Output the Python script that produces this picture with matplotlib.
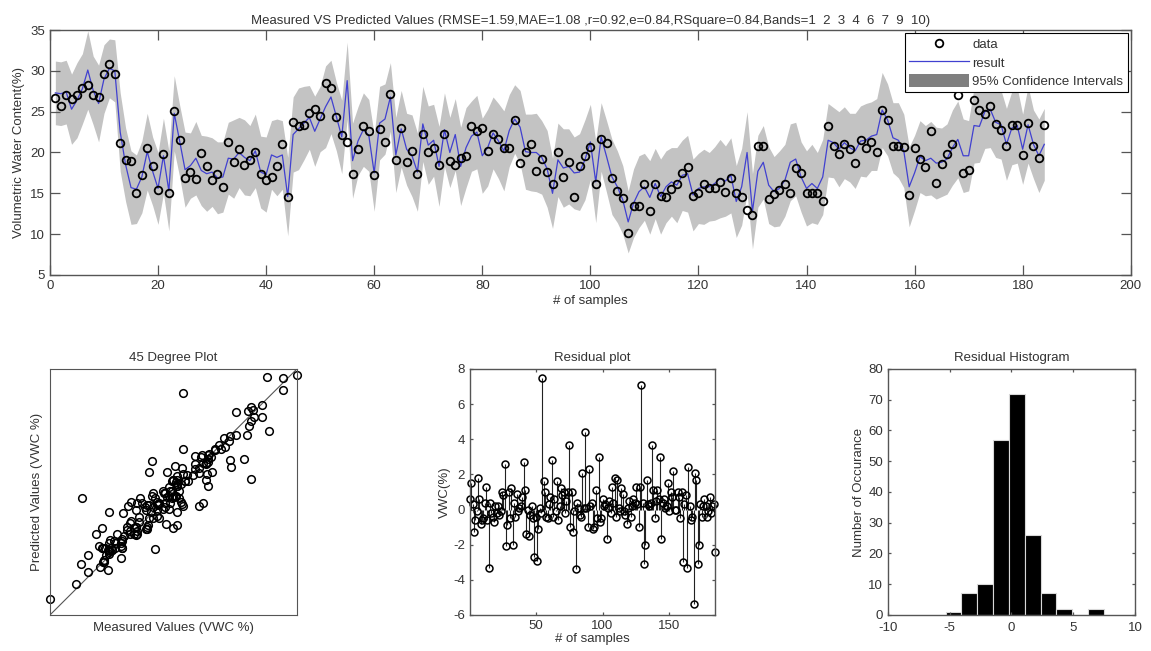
import matplotlib
matplotlib.use("Agg")
import matplotlib.pyplot as plt
from matplotlib.lines import Line2D
from matplotlib.patches import Patch
import numpy as np

plt.rcParams["font.family"] = ["Liberation Sans", "DejaVu Sans"]
plt.rcParams["font.size"] = 9.5
plt.rcParams["axes.unicode_minus"] = False
plt.rcParams["text.color"] = "#333333"
plt.rcParams["axes.labelcolor"] = "#333333"
plt.rcParams["xtick.color"] = "#333333"
plt.rcParams["ytick.color"] = "#333333"

# measured VWC (%) per sample
measured = [
    26.7, 25.7, 27.1, 26.6, 27.0, 27.9, 28.3, 27.0, 26.8, 29.6,
    30.8, 29.6, 21.2, 19.1, 19.0, 15.1, 17.2, 20.5, 18.4, 15.4,
    19.8, 15.1, 25.1, 21.5, 16.9, 17.6, 16.7, 19.9, 18.3, 16.6,
    17.4, 15.8, 21.3, 18.8, 20.4, 18.5, 19.1, 20.1, 17.4, 16.6,
    17.0, 18.3, 21.1, 14.6, 23.7, 23.2, 23.4, 24.8, 25.3, 24.5,
    28.5, 27.9, 24.3, 22.1, 21.3, 17.4, 20.4, 23.2, 22.6, 17.2,
    22.9, 21.3, 27.2, 19.1, 23.0, 18.8, 20.2, 17.4, 22.3, 20.1,
    20.5, 18.5, 22.3, 19.0, 18.5, 19.3, 19.6, 23.3, 22.6, 23.0,
    20.2, 22.3, 21.7, 20.6, 20.6, 24.0, 18.7, 20.0, 21.0, 17.7,
    19.2, 17.6, 16.1, 20.1, 17.0, 18.8, 14.5, 18.3, 19.6, 20.7,
    16.2, 21.6, 21.2, 16.9, 15.3, 14.4, 10.2, 13.4, 13.4, 16.2,
    12.8, 16.1, 14.7, 14.6, 15.5, 16.1, 17.5, 18.2, 14.7, 15.1,
    16.2, 15.6, 15.6, 16.4, 15.2, 16.9, 15.0, 14.5, 12.9, 12.4,
    20.8, 20.8, 14.3, 14.9, 15.4, 16.2, 15.1, 18.1, 17.5, 15.1,
    15.1, 15.0, 14.0, 23.2, 20.8, 19.8, 21.1, 20.4, 18.7, 21.5,
    20.5, 21.3, 20.0, 25.2, 24.0, 20.8, 20.8, 20.7, 14.8, 20.5,
    19.2, 18.2, 22.6, 16.3, 18.6, 19.8, 21.0, 27.0, 17.5, 17.9,
    26.4, 25.2, 24.7, 25.7, 23.5, 22.8, 20.8, 23.4, 23.4, 19.7,
    23.6, 20.8, 19.3, 23.4,
]

# predicted VWC (%) per sample (blue "result" line)
predicted = [
    27.3, 27.2, 27.4, 25.3, 26.4, 27.8, 30.1, 27.6, 26.0, 29.0,
    30.3, 30.0, 22.5, 18.5, 15.7, 15.5, 17.0, 20.1, 17.7, 15.6,
    19.6, 15.3, 24.8, 21.4, 17.9, 18.4, 19.3, 17.8, 17.4, 17.6,
    16.9, 17.0, 19.3, 19.2, 20.0, 19.4, 19.0, 20.2, 17.6, 17.3,
    19.7, 19.4, 19.7, 14.6, 22.2, 22.9, 23.6, 24.3, 22.6, 24.1,
    25.6, 26.8, 24.4, 21.9, 28.8, 19.0, 21.4, 22.8, 22.1, 17.5,
    23.6, 24.1, 26.8, 19.7, 22.9, 20.4, 19.6, 17.6, 23.5, 20.9,
    21.5, 18.3, 22.8, 20.0, 22.2, 18.3, 20.6, 22.0, 22.5, 19.6,
    20.6, 22.4, 21.4, 20.2, 22.7, 24.1, 23.1, 20.1, 20.0, 20.0,
    19.4, 18.0, 15.0, 19.1, 18.1, 18.3, 17.5, 17.6, 19.1, 21.3,
    16.4, 21.9, 19.5, 17.0, 15.8, 14.2, 11.5, 13.8, 15.2, 15.8,
    14.5, 16.2, 14.6, 15.8, 16.4, 16.0, 17.2, 17.4, 14.8, 15.6,
    15.8, 15.8, 16.2, 16.8, 16.5, 17.2, 14.0, 15.8, 20.0, 12.8,
    17.7, 18.8, 16.0, 15.2, 15.6, 16.6, 18.8, 19.2, 17.0, 15.6,
    16.2, 15.6, 17.0, 21.5, 21.2, 20.4, 21.2, 20.6, 20.2, 21.4,
    21.5, 22.0, 22.2, 25.2, 24.0, 21.8, 21.5, 20.2, 15.8, 17.5,
    19.5, 19.0, 19.3, 18.7, 18.8, 19.2, 20.6, 21.6, 19.6, 19.6,
    23.3, 23.2, 25.0, 25.3, 23.7, 23.4, 21.0, 23.0, 23.3, 20.4,
    23.4, 21.0, 19.6, 21.0,
]

# half width of the 95% confidence band around the prediction
ci_half = [
    3.9, 3.9, 3.9, 4.3, 4.6, 4.3, 4.8, 4.2, 4.7, 4.2,
    3.6, 3.8, 4.8, 4.5, 4.5, 4.2, 4.4, 4.7, 4.2, 4.4,
    4.6, 4.9, 4.6, 4.4, 4.6, 4.0, 4.5, 4.3, 4.6, 4.2,
    4.4, 4.3, 4.4, 4.8, 4.3, 4.6, 4.3, 4.5, 4.4, 4.6,
    4.2, 4.7, 4.2, 4.8, 4.6, 5.0, 4.5, 3.9, 4.3, 4.0,
    5.0, 4.5, 4.2, 4.5, 4.7, 4.6, 4.2, 4.5, 4.4, 4.7,
    4.5, 4.3, 4.2, 4.6, 4.7, 4.4, 5.0, 4.8, 4.6, 4.8,
    4.4, 4.9, 4.5, 4.3, 4.4, 4.8, 4.9, 4.3, 4.5, 4.6,
    4.7, 4.4, 4.6, 4.9, 4.4, 4.2, 4.5, 4.6, 4.7, 4.8,
    4.5, 4.7, 4.3, 4.5, 4.8, 4.6, 4.4, 4.7, 4.9, 4.6,
    5.0, 4.2, 4.4, 4.6, 4.4, 4.2, 3.8, 4.2, 4.4, 4.1,
    4.5, 4.3, 4.6, 4.4, 4.2, 4.6, 4.3, 4.7, 4.4, 4.3,
    4.6, 4.2, 4.5, 4.8, 4.3, 4.6, 4.4, 4.7, 5.0, 4.6,
    4.4, 4.5, 4.7, 4.3, 4.6, 4.4, 4.7, 4.5, 4.3, 4.6,
    4.8, 4.4, 4.6, 4.5, 4.3, 4.6, 4.4, 4.2, 4.6, 4.3,
    4.5, 4.2, 4.4, 4.6, 4.4, 4.3, 4.6, 4.5, 4.9, 4.6,
    4.4, 4.3, 4.5, 4.4, 4.2, 4.3, 4.6, 4.7, 4.5, 4.3,
    4.6, 4.4, 4.5, 4.7, 4.3, 4.2, 4.4, 4.5, 4.6, 4.3,
    4.7, 4.2, 4.5, 4.4,
]

# residual histogram (10 bins between min and max residual)
hist_edges = [-5.33, -4.05, -2.77, -1.49, -0.21, 1.07, 2.35, 3.63, 4.91, 6.19, 7.47]
hist_counts = [1, 7, 10, 57, 72, 26, 7, 2, 0, 2]

TITLE = ("Measured VS Predicted Values (RMSE=1.59,MAE=1.08 ,r=0.92,e=0.84,"
         "RSquare=0.84,Bands=1  2  3  4  6  7  9  10)")

SPINE = "#555555"
BAND = "#c3c3c3"
BLUE = "#4040d0"


def style_box(ax, length=3.0, xpad=3.5):
    for sp in ax.spines.values():
        sp.set_color(SPINE)
        sp.set_linewidth(1.0)
    ax.tick_params(direction="in", top=True, right=True, length=length,
                   width=0.9, colors=SPINE, labelcolor="#333333", labelsize=9.5)
    ax.tick_params(axis="x", pad=xpad)


def main() -> None:
    meas = np.array(measured)
    pred = np.array(predicted)
    half = np.array(ci_half)
    samples = np.arange(1, len(meas) + 1)
    resid = pred - meas

    fig = plt.figure(figsize=(11.51, 6.51), dpi=100)

    # --- top panel
    ax = fig.add_axes([0.0434, 0.5776, 0.939, 0.3763])
    ax.fill_between(samples, pred - half, pred + half, color=BAND, lw=0)
    ax.plot(samples, pred, color=BLUE, lw=0.9)
    ax.plot(samples, meas, "o", mfc="none", mec="black", mew=1.3, ms=5.5)
    ax.set_xlim(0, 200)
    ax.set_ylim(5, 35)
    ax.set_xticks(range(0, 201, 20))
    ax.set_yticks(range(5, 36, 5))
    style_box(ax, length=7)
    ax.set_title(TITLE, fontsize=9.5, pad=4)
    ax.set_xlabel("# of samples", labelpad=2)
    ax.set_ylabel("Volumetric Water Content(%)", labelpad=4)
    handles = [
        Line2D([], [], marker="o", ls="none", mfc="none", mec="black", mew=1.3, ms=5.5),
        Line2D([], [], color=BLUE, lw=0.9),
        Patch(facecolor="#7f7f7f", edgecolor="none"),
    ]
    leg = ax.legend(handles, ["data", "result", "95% Confidence Intervals"],
                    loc="upper right", fancybox=False, framealpha=1,
                    borderaxespad=0.2, handlelength=4.5, handleheight=1.2,
                    handletextpad=0.3, labelspacing=0.3, borderpad=0.35,
                    fontsize=9.5)
    leg.get_frame().set_edgecolor("black")
    leg.get_frame().set_linewidth(0.8)

    # --- 45 degree plot
    lo = min(meas.min(), pred.min())
    hi = max(meas.max(), pred.max())
    ax1 = fig.add_axes([0.0434, 0.0553, 0.2146, 0.378])
    ax1.plot([lo, hi], [lo, hi], color="#555555", lw=0.8)
    ax1.plot(meas, pred, "o", mfc="none", mec="black", mew=1.1, ms=5.5, clip_on=False)
    ax1.set_xlim(lo, hi)
    ax1.set_ylim(lo, hi)
    ax1.set_xticks([])
    ax1.set_yticks([])
    for sp in ax1.spines.values():
        sp.set_color(SPINE)
    ax1.set_title("45 Degree Plot", fontsize=9.5, pad=6)
    ax1.set_xlabel("Measured Values (VWC %)", labelpad=5)
    ax1.set_ylabel("Predicted Values (VWC %)", labelpad=5)

    # --- residual stem plot
    ax2 = fig.add_axes([0.4083, 0.0553, 0.2129, 0.378])
    ax2.vlines(samples, 0, resid, color="#222222", lw=0.8)
    ax2.plot(samples, resid, "o", mfc="none", mec="black", mew=1.1, ms=5, clip_on=False)
    ax2.set_xlim(1, 184)
    ax2.set_ylim(-6, 8)
    ax2.set_xticks([50, 100, 150])
    ax2.set_yticks(range(-6, 9, 2))
    style_box(ax2, length=2.5)
    ax2.set_title("Residual plot", fontsize=9.5, pad=6)
    ax2.set_xlabel("# of samples", labelpad=1)
    ax2.set_ylabel("VWC(%)", labelpad=2)

    # --- residual histogram
    ax3 = fig.add_axes([0.7715, 0.0553, 0.2146, 0.378])
    left = hist_edges[:-1]
    widths = np.diff(hist_edges)
    ax3.bar(left, hist_counts, width=widths, align="edge", color="black",
            edgecolor="#d8d8d8", linewidth=0.8)
    ax3.set_xlim(-10, 10)
    ax3.set_ylim(0, 80)
    ax3.set_xticks(range(-10, 11, 5))
    ax3.set_yticks(range(0, 81, 10))
    style_box(ax3, length=2.5, xpad=5)
    ax3.set_title("Residual Histogram", fontsize=9.5, pad=6)
    ax3.set_ylabel("Number of Occurance", labelpad=2)

    fig.savefig("out.png", dpi=100)
    plt.close(fig)


if __name__ == "__main__":
    main()
